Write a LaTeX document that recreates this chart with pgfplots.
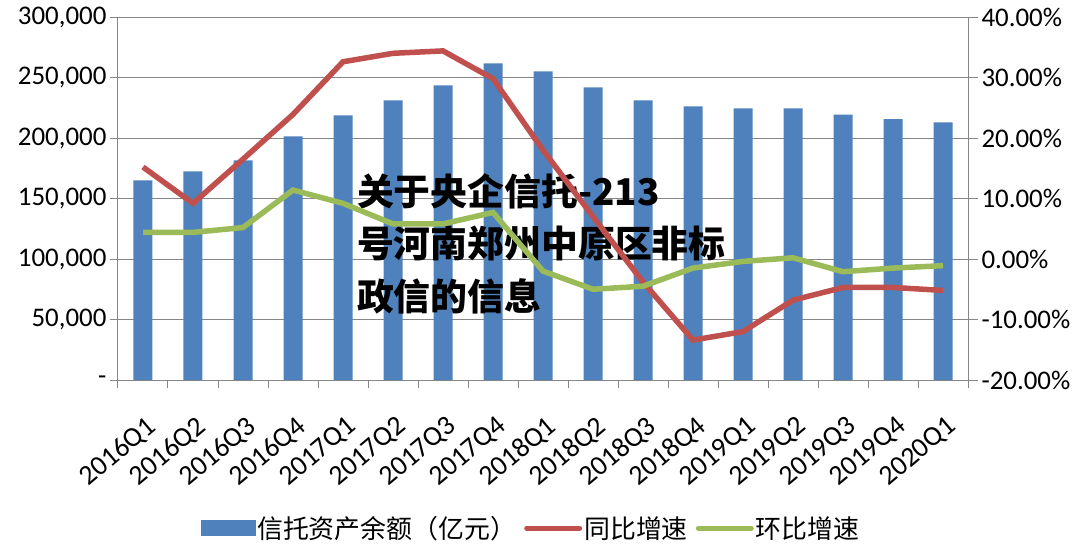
\documentclass[border=0pt]{standalone}
\usepackage{pgfplots}
\pgfplotsset{compat=1.18}
\usepackage{fontspec}
\setmainfont{Carlito}
\newfontfamily\cjk{Noto Sans CJK SC}
\definecolor{barblue}{HTML}{4F81BD}
\definecolor{linered}{HTML}{C0504D}
\definecolor{linegreen}{HTML}{9BBB59}
\definecolor{gridgray}{HTML}{868686}

\begin{document}
\begin{tikzpicture}
\useasboundingbox (-118bp,-176bp) rectangle (969bp,380bp);
% left axis: trust assets (bars)
\begin{axis}[
    scale only axis, width=850bp, height=363bp,
    xmin=-0.5, xmax=16.5, ymin=0, ymax=300000,
    scaled y ticks=false,
    axis x line*=bottom, axis y line*=left,
    axis line style={gridgray, line width=1bp},
    xtick={0,...,16},
    xticklabels={2016Q1,2016Q2,2016Q3,2016Q4,2017Q1,2017Q2,2017Q3,2017Q4,2018Q1,2018Q2,2018Q3,2018Q4,2019Q1,2019Q2,2019Q3,2019Q4,2020Q1},
    major x tick style={draw=none},
    minor xtick={-0.5,0.5,...,16.5},
    minor x tick style={gridgray, line width=1bp},
    tick align=outside,
    major tick length=8bp, minor tick length=8bp,
    ytick={0,50000,100000,150000,200000,250000,300000},
    yticklabels={-,{50,000},{100,000},{150,000},{200,000},{250,000},{300,000}},
    ytick style={gridgray, line width=1bp},
    ymajorgrids, grid style={gridgray, line width=1bp},
    tick label style={font=\fontsize{27}{27}\selectfont},
    xticklabel style={xshift=12bp, yshift=-33bp, rotate=40, anchor=east, font=\fontsize{28}{28}\selectfont},
]
\addplot[ybar, bar width=19bp, fill=barblue, draw=none] coordinates {
    (0,165000) (1,172500) (2,181600) (3,201400) (4,218800) (5,231100)
    (6,243500) (7,261700) (8,255100) (9,241900) (10,231100) (11,226200)
    (12,224500) (13,224500) (14,219300) (15,215500) (16,213000)
};
\end{axis}
% right axis: growth rates (lines)
\begin{axis}[
    scale only axis, width=850bp, height=363bp,
    xmin=-0.5, xmax=16.5, ymin=-20, ymax=40,
    axis x line=none, axis y line*=right,
    axis line style={gridgray, line width=1bp},
    ytick={-20,-10,0,10,20,30,40},
    yticklabels={-20.00\%,-10.00\%,0.00\%,10.00\%,20.00\%,30.00\%,40.00\%},
    ytick style={gridgray, line width=1bp},
    tick align=outside, major tick length=10bp,
    tick label style={font=\fontsize{27}{27}\selectfont},
    legend image code/.code={\draw[#1, line width=5bp, line cap=round] (3bp,0bp) -- (56bp,0bp);},
    legend style={at={(0.486,-0.408)}, anchor=center, draw=none, fill=none,
        legend columns=3, font=\cjk\fontsize{26}{26}\selectfont,
        /tikz/every even column/.append style={column sep=6bp}},
]
\node[anchor=north west, inner sep=0, align=left,
      font=\cjk\bfseries\fontsize{37}{53}\selectfont]
    at (rel axis cs:0.281,0.57) {关于央企信托-213\\号河南郑州中原区非标\\政信的信息};
\addlegendimage{legend image code/.code={\fill[barblue] (0bp,-7.5bp) rectangle (54bp,7.5bp);}}
\addlegendentry{信托资产余额（亿元）}
\addplot[linered, line width=5.5bp] coordinates {
    (0,15.2) (1,9.2) (2,16.5) (3,23.9) (4,32.6) (5,34.0) (6,34.4) (7,29.8)
    (8,18.0) (9,7.0) (10,-3.8) (11,-13.4) (12,-12.0) (13,-6.8) (14,-4.7)
    (15,-4.7) (16,-5.2)
};
\addlegendentry{同比增速}
\addplot[linegreen, line width=5.5bp] coordinates {
    (0,4.4) (1,4.4) (2,5.2) (3,11.4) (4,9.2) (5,5.8) (6,5.8) (7,7.7)
    (8,-2.0) (9,-5.0) (10,-4.5) (11,-1.5) (12,-0.4) (13,0.2) (14,-2.1)
    (15,-1.5) (16,-1.1)
};
\addlegendentry{环比增速}
\end{axis}
\end{tikzpicture}
\end{document}
